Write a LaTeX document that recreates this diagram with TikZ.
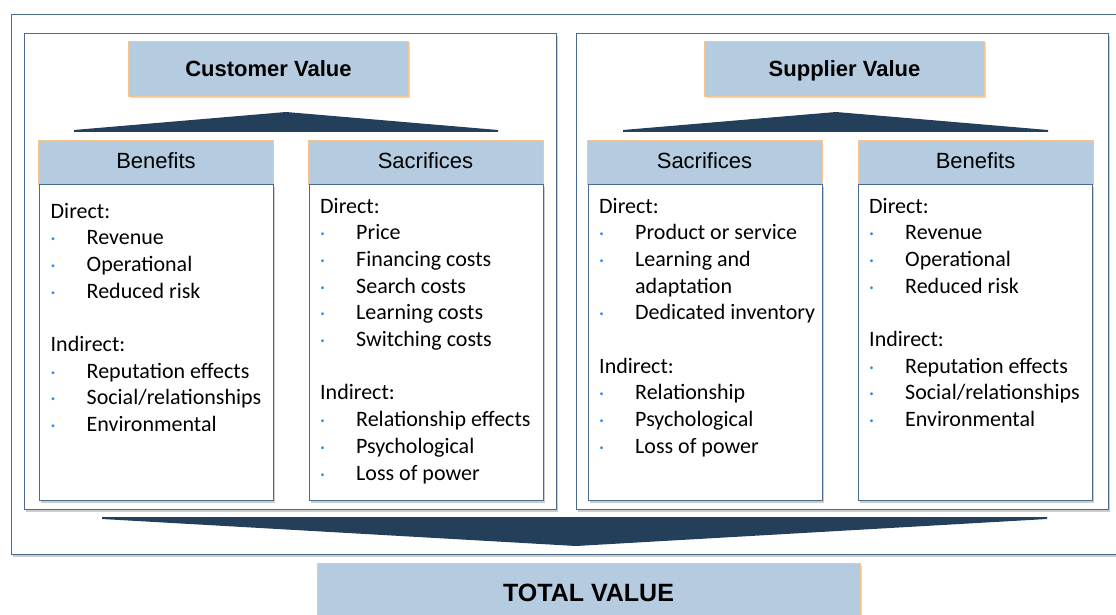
\documentclass[tikz,border=0pt]{standalone}
\usepackage{fontspec}
\setmainfont{Carlito}
\newfontfamily\arialf{Liberation Sans}
\usetikzlibrary{shadows}
\definecolor{boxblue}{HTML}{B4CBE0}
\definecolor{orangeb}{HTML}{F7C590}
\definecolor{darkb}{HTML}{243F59}
\definecolor{frameb}{HTML}{4A6A8E}
\definecolor{bulletc}{HTML}{2E8CF0}
\newcommand\bl[1]{\makebox[36pt][l]{\hspace{0.5pt}\textcolor{bulletc}{\raisebox{3pt}{\fontsize{8}{8}\selectfont\textbullet}}}#1}
\newcommand\cont{\hspace*{36pt}}
\newcommand\lst[1]{\parbox[t]{250pt}{\fontsize{22}{26.7}\selectfont\raggedright #1}}
\begin{document}
\begin{tikzpicture}[x=1pt,y=-1pt,
  panelbox/.style={draw=frameb, line width=1.1pt, fill=white, anchor=north west, inner sep=0pt, drop shadow={shadow xshift=1.5pt, shadow yshift=-2.5pt, opacity=0.4}},
  titlebox/.style={draw=orangeb, line width=1pt, fill=boxblue, anchor=north west, inner sep=0pt, drop shadow={shadow xshift=1pt, shadow yshift=-2pt, opacity=0.3}},
  headbox/.style={draw=orangeb, line width=1pt, fill=boxblue, anchor=north west, inner sep=0pt},
  titletext/.style={font=\arialf\bfseries\fontsize{22}{26}\selectfont, text=black, anchor=base, inner sep=0pt},
  headtext/.style={font=\arialf\fontsize{22}{26}\selectfont, text=black, anchor=base, inner sep=0pt},
  listtext/.style={anchor=base west, inner sep=0pt, text=black},
  arrowshape/.style={fill=darkb}
  ]
\useasboundingbox (0,0) rectangle (1116,615);
\fill[white] (0,0) rectangle (1116,615);

% outer frame
\node[panelbox, minimum width=1112pt, minimum height=540pt] (outer) at (11,14) {};

% panels
\node[panelbox, minimum width=532pt, minimum height=476pt] (lpanel) at (24,33) {};
\node[panelbox, minimum width=532pt, minimum height=476pt] (rpanel) at (576,33) {};

% titles
\node[titlebox, minimum width=280pt, minimum height=55pt] (cv) at (128,41) {};
\node[titletext] (cvt) at (268.5,77) {Customer Value};
\node[titlebox, minimum width=280pt, minimum height=55pt] (sv) at (704,41) {};
\node[titletext] (svt) at (844.5,77) {Supplier Value};

% upper triangles
\fill[arrowshape] (74,130) -- (286,112) -- (498,130) -- (498,132) -- (74,132) -- cycle;
\fill[arrowshape] (623,130) -- (836,112) -- (1048,130) -- (1048,132) -- (623,132) -- cycle;

% headers
\node[headbox, minimum width=235pt, minimum height=44pt] (h1) at (38,140) {};
\node[headbox, minimum width=235pt, minimum height=44pt] (h2) at (308,140) {};
\node[headbox, minimum width=235pt, minimum height=44pt] (h3) at (587,140) {};
\node[headbox, minimum width=235pt, minimum height=44pt] (h4) at (858,140) {};
\node[headtext] (h1t) at (156,168) {Benefits};
\node[headtext] (h2t) at (425.5,168) {Sacrifices};
\node[headtext] (h3t) at (704.5,168) {Sacrifices};
\node[headtext] (h4t) at (975.5,168) {Benefits};

% content boxes
\node[panelbox, minimum width=234pt, minimum height=316pt] (b1) at (39,184) {};
\node[panelbox, minimum width=234pt, minimum height=316pt] (b2) at (309,184) {};
\node[panelbox, minimum width=234pt, minimum height=316pt] (b3) at (588,184) {};
\node[panelbox, minimum width=234pt, minimum height=316pt] (b4) at (858,184) {};

% lists
\node[listtext] (l1) at (50.5,218) {\lst{Direct:\\
\bl{Revenue}\\
\bl{Operational}\\
\bl{Reduced risk}\\
\mbox{}\\
Indirect:\\
\bl{Reputation effects}\\
\bl{Social/relationships}\\
\bl{Environmental}}};

\node[listtext] (l2) at (320,213) {\lst{Direct:\\
\bl{Price}\\
\bl{Financing costs}\\
\bl{Search costs}\\
\bl{Learning costs}\\
\bl{Switching costs}\\
\mbox{}\\
Indirect:\\
\bl{Relationship effects}\\
\bl{Psychological}\\
\bl{Loss of power}}};

\node[listtext] (l3) at (599,213) {\lst{Direct:\\
\bl{Product or service}\\
\bl{Learning and}\\
\cont adaptation\\
\bl{Dedicated inventory}\\
\mbox{}\\
Indirect:\\
\bl{Relationship}\\
\bl{Psychological}\\
\bl{Loss of power}}};

\node[listtext] (l4) at (869,213) {\lst{Direct:\\
\bl{Revenue}\\
\bl{Operational}\\
\bl{Reduced risk}\\
\mbox{}\\
Indirect:\\
\bl{Reputation effects}\\
\bl{Social/relationships}\\
\bl{Environmental}}};

% bottom arrow
\fill[arrowshape] (102,517) -- (1047,517) -- (1047,519) -- (576,546) -- (102,519) -- cycle;

% total value
\fill[white] (308,557) rectangle (868,620);
\node[titlebox, minimum width=543pt, minimum height=60pt] (tv) at (317,563) {};
\node[titletext, font=\arialf\bfseries\fontsize{25}{30}\selectfont] (tvt) at (588.5,601) {TOTAL VALUE};
\end{tikzpicture}
\end{document}
